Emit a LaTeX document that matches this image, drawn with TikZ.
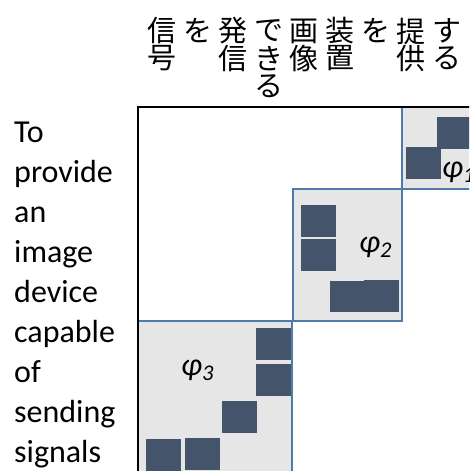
\documentclass[tikz,border=0pt]{standalone}
\usepackage{fontspec}
\setmainfont{Carlito}
\newfontfamily\jpfont{Noto Sans CJK JP}
\definecolor{sq}{HTML}{44546A}
\definecolor{blk}{HTML}{E7E6E6}
\definecolor{bd}{HTML}{4F7BAA}
\begin{document}
\begin{tikzpicture}[x=1pt,y=-1pt,
  sqr/.style={fill=sq, draw=none},
  blockbox/.style={fill=blk, draw=bd, line width=1.3pt},
  jp/.style={font=\jpfont\fontsize{29}{29}\selectfont, inner sep=0pt, anchor=center},
  en/.style={font=\fontsize{32}{40}\selectfont, anchor=base west, inner sep=0pt},
  phi/.style={font=\fontsize{32}{36}\selectfont\itshape, inner sep=0pt, anchor=base west}]
\useasboundingbox (0,0) rectangle (469,471);
\clip (0,0) rectangle (469,471);
% blocks
\draw[blockbox] (402,107) rectangle (490,189);
\draw[blockbox] (293,189) rectangle (402,321);
\draw[blockbox] (138,321) rectangle (292,490);
% outer box
\draw[black, line width=1.5pt] (138,490) -- (138,107) -- (490,107);
% squares block 1
\fill[sqr] (437,117) rectangle (472,149);
\fill[sqr] (406,147) rectangle (441,179);
% squares block 2
\fill[sqr] (301,205) rectangle (336,237);
\fill[sqr] (301,239) rectangle (336,271);
\fill[sqr] (330,281) rectangle (365,312);
\fill[sqr] (364,280) rectangle (399,312);
% squares block 3
\fill[sqr] (256,328) rectangle (291,360);
\fill[sqr] (256,364) rectangle (291,396);
\fill[sqr] (222,401) rectangle (257,433);
\fill[sqr] (146,439) rectangle (181,471);
\fill[sqr] (185,438) rectangle (220,470);
% phi labels
\node[phi] (p1) at (442,177) {φ\textsubscript{1}};
\node[phi] (p2) at (359,252) {φ\textsubscript{2}};
\node[phi] (p3) at (181,375) {φ\textsubscript{3}};
% japanese columns
\foreach \c/\r/\t in {0/0/信,0/1/号,1/0/を,2/0/発,2/1/信,3/0/で,3/1/き,3/2/る,4/0/画,4/1/像,5/0/装,5/1/置,6/0/を,7/0/提,7/1/供,8/0/す,8/1/る}
  \node[jp] (j\c\r) at ({162+35.6*\c},{31+27.5*\r}) {\t};
% english text
\node[en] (e1) at (14,142) {To};
\node[en] (e2) at (14,182) {provide};
\node[en] (e3) at (14,222) {an};
\node[en] (e4) at (14,262) {image};
\node[en] (e5) at (14,302) {device};
\node[en] (e6) at (14,342) {capable};
\node[en] (e7) at (14,382) {of};
\node[en] (e8) at (14,422) {sending};
\node[en] (e9) at (14,462) {signals};
\end{tikzpicture}
\end{document}
